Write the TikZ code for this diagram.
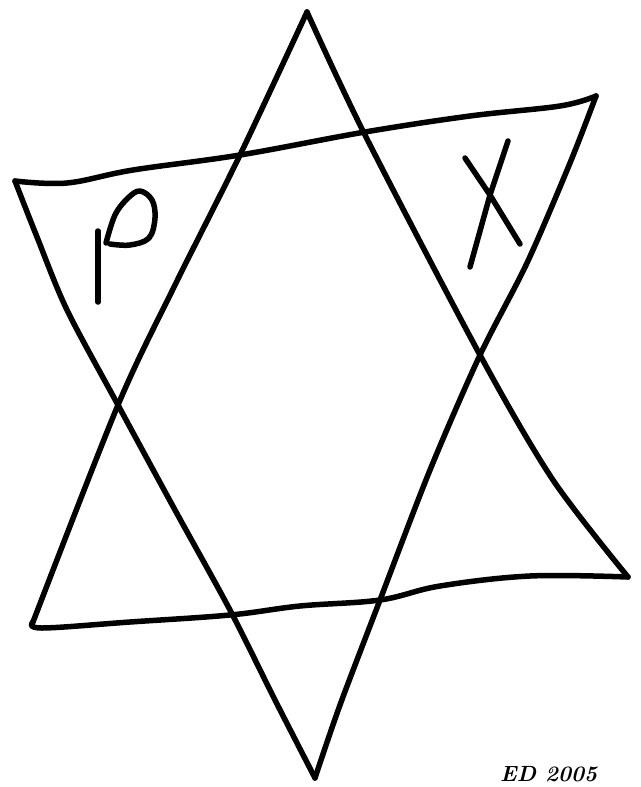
\documentclass[tikz,border=0pt]{standalone}
\begin{document}
\begin{tikzpicture}[x=1pt,y=-1pt,
  ink/.style={line width=5.5pt,line cap=round,line join=round,black},
  letterstroke/.style={line width=5.5pt,line cap=round,line join=round,black}]
\useasboundingbox (0,0) rectangle (640,787);
\fill[white] (0,0) rectangle (640,787);
% upward triangle
\coordinate (A) at (307,12);
\coordinate (B) at (33,622);
\coordinate (C) at (628,577);
% downward triangle
\coordinate (D) at (15,181);
\coordinate (E) at (596,96);
\coordinate (F) at (315,778);
% up triangle edges
\draw[ink] plot[smooth,tension=0.5] coordinates {(A) (240,155) (175,285) (118,405) (B)};
\draw[ink] plot[smooth,tension=0.5] coordinates {(A) (365,135) (480,355) (553,480) (C)};
\draw[ink] plot[smooth,tension=0.6] coordinates {(B) (42,628) (130,622) (230,615) (300,606) (380,600) (440,586) (530,576) (C)};
% down triangle edges
\draw[ink] plot[smooth,tension=0.6] coordinates {(D) (67,183) (133,170) (240,155) (365,132) (470,116) (560,106) (E)};
\draw[ink] plot[smooth,tension=0.5] coordinates {(D) (37,237) (67,310) (118,405) (175,510) (230,610) (275,700) (F)};
\draw[ink] plot[smooth,tension=0.5] coordinates {(E) (570,163) (527,263) (480,355) (430,470) (380,600) (340,705) (F)};
% rho
\draw[letterstroke] (98,302) -- (98,231);
\draw[letterstroke] plot[smooth,tension=0.6] coordinates {(106,243) (115,215) (128,198) (140,191) (152,200) (155,218) (149,238) (130,245) (110,244)};
% chi
\draw[letterstroke] (508,141) -- (490,195) -- (470,267);
\draw[letterstroke] (465,158) -- (490,195) -- (520,244);
% signature
\node[anchor=base west,font=\fontsize{22}{22}\selectfont\bfseries\itshape,inner sep=0pt] (sig) at (500,781) {ED 2005};
\end{tikzpicture}
\end{document}
